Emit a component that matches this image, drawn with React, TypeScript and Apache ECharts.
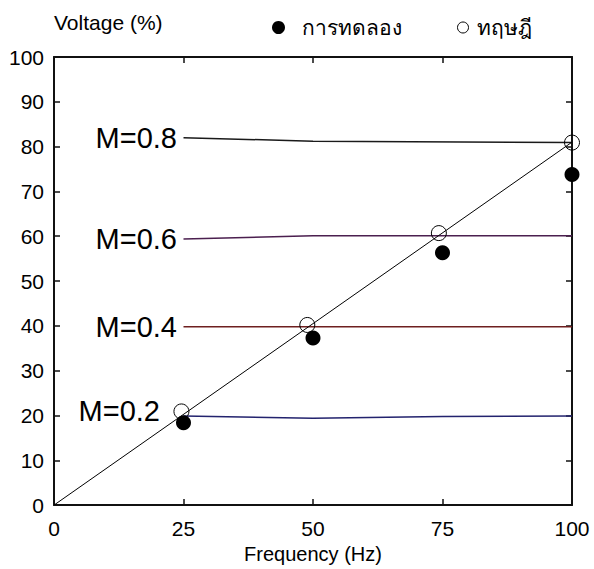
import React, { useEffect, useRef } from "react";
import * as echarts from "echarts";

// Experimental points (filled circles)
const freqExp = [25, 50, 75, 100];
const voltExp = [18.4, 37.3, 56.3, 73.8];
// Theoretical points (open circles)
const freqTheory = [24.6, 48.9, 74.3, 100];
const voltTheory = [20.9, 40.2, 60.7, 80.9];
// Theoretical V/f line
const theoryLineX = [0, 100];
const theoryLineY = [0, 81];
// Modulation index curves
const mLabels = ["M=0.8", "M=0.6", "M=0.4", "M=0.2"];
const mLineX = [
  [25, 50, 100],
  [25, 50, 100],
  [25, 100],
  [25, 50, 75, 100],
];
const mLineY = [
  [82, 81.2, 80.9],
  [59.4, 60.1, 60.1],
  [39.8, 39.8],
  [19.9, 19.4, 19.8, 19.9],
];
const mColors = ["#1a1a1a", "#4b1f4f", "#6e1f1f", "#23236e"];
const mLabelDistance = [6, 6, 6, 23];
const mLabelOffsetY = [0, 0, 0, -5];

const xTicks = { min: 0, max: 100, interval: 25 };
const yTicks = { min: 0, max: 100, interval: 10 };

const legendExp = "การทดลอง";
const legendTheory = "ทฤษฎี";
const xName = "Frequency (Hz)";
const yName = "Voltage (%)";

const sans = "'Liberation Sans', Arial, 'Noto Sans', sans-serif";

export default function App() {
  const ref = useRef<HTMLDivElement>(null);
  useEffect(() => {
    if (!ref.current) return;
    const chart = echarts.init(ref.current, null, { renderer: "svg" });
    const axisLine = { show: true, onZero: false, lineStyle: { color: "#111", width: 2 } };
    const axisTick = { show: true, inside: true, length: 6, lineStyle: { color: "#111", width: 1.5 } };
    const mSeries = mLabels.map((name, i) => ({
      name,
      type: "line",
      xAxisIndex: 0,
      yAxisIndex: 0,
      symbol: "circle",
      symbolSize: 1,
      showSymbol: true,
      silent: true,
      itemStyle: { color: "rgba(0,0,0,0)", borderWidth: 0 },
      lineStyle: { color: mColors[i], width: 1.5 },
      label: { show: false },
      data: mLineX[i].map((x, j) =>
        j === 0
          ? {
              value: [x, mLineY[i][j]],
              label: {
                show: true,
                position: "left",
                distance: mLabelDistance[i],
                offset: [0, mLabelOffsetY[i]],
                formatter: name,
                fontSize: 29,
                fontFamily: sans,
                color: "#000",
              },
            }
          : [x, mLineY[i][j]]
      ),
      z: 2,
    }));
    const option: any = {
      animation: false,
      backgroundColor: "#fff",
      grid: { left: 54, right: 22, top: 57, bottom: 62, containLabel: false },
      legend: [
        {
          data: [{ name: legendExp, icon: "circle", itemStyle: { color: "#000", opacity: 1 } }],
          left: 267,
          top: 12,
          itemWidth: 13,
          itemHeight: 13,
          textStyle: { fontSize: 21, color: "#000", fontFamily: sans, padding: [0, 0, 0, 12] },
        },
        {
          data: [{ name: legendTheory, icon: "circle", itemStyle: { color: "#fff", borderColor: "#000", borderWidth: 1 } }],
          left: 452,
          top: 12,
          itemWidth: 11,
          itemHeight: 11,
          textStyle: { fontSize: 21, color: "#000", fontFamily: sans, padding: [0, 0, 0, 3] },
        },
      ],
      xAxis: [
        {
          type: "value",
          ...xTicks,
          position: "bottom",
          name: xName,
          nameLocation: "middle",
          nameGap: 36,
          nameTextStyle: { fontSize: 20, color: "#000", fontFamily: sans },
          axisLine,
          axisTick,
          splitLine: { show: false },
          axisLabel: { fontSize: 21, color: "#000", margin: 13, fontFamily: sans },
        },
        {
          type: "value",
          ...xTicks,
          position: "top",
          axisLine,
          axisTick,
          splitLine: { show: false },
          axisLabel: { show: false },
        },
      ],
      yAxis: [
        {
          type: "value",
          ...yTicks,
          position: "left",
          name: yName,
          nameLocation: "end",
          nameGap: 35,
          nameTextStyle: { fontSize: 21, color: "#000", fontFamily: sans, align: "left", verticalAlign: "middle" },
          axisLine,
          axisTick,
          splitLine: { show: false },
          axisLabel: { fontSize: 21, color: "#000", margin: 10, fontFamily: sans, padding: [8, 0, 0, 0] },
        },
        {
          type: "value",
          ...yTicks,
          position: "right",
          axisLine,
          axisTick,
          splitLine: { show: false },
          axisLabel: { show: false },
        },
      ],
      series: [
        ...mSeries,
        {
          name: "theory line",
          type: "line",
          symbol: "none",
          silent: true,
          lineStyle: { color: "#000", width: 1 },
          data: theoryLineX.map((x, i) => [x, theoryLineY[i]]),
          z: 3,
        },
        {
          name: legendTheory,
          type: "scatter",
          symbol: "circle",
          symbolSize: 15,
          itemStyle: { color: "rgba(255,255,255,0)", borderColor: "#000", borderWidth: 1, opacity: 1 },
          data: freqTheory.map((x, i) => [x, voltTheory[i]]),
          z: 4,
        },
        {
          name: legendExp,
          type: "scatter",
          symbol: "circle",
          symbolSize: 15,
          itemStyle: { color: "#000", opacity: 1 },
          data: freqExp.map((x, i) => [x, voltExp[i]]),
          z: 5,
        },
      ],
    };
    chart.setOption(option);
    return () => chart.dispose();
  }, []);
  return (
    <div
      ref={ref}
      style={{ position: "fixed", left: 0, top: 0, width: 594, height: 569 }}
    />
  );
}
